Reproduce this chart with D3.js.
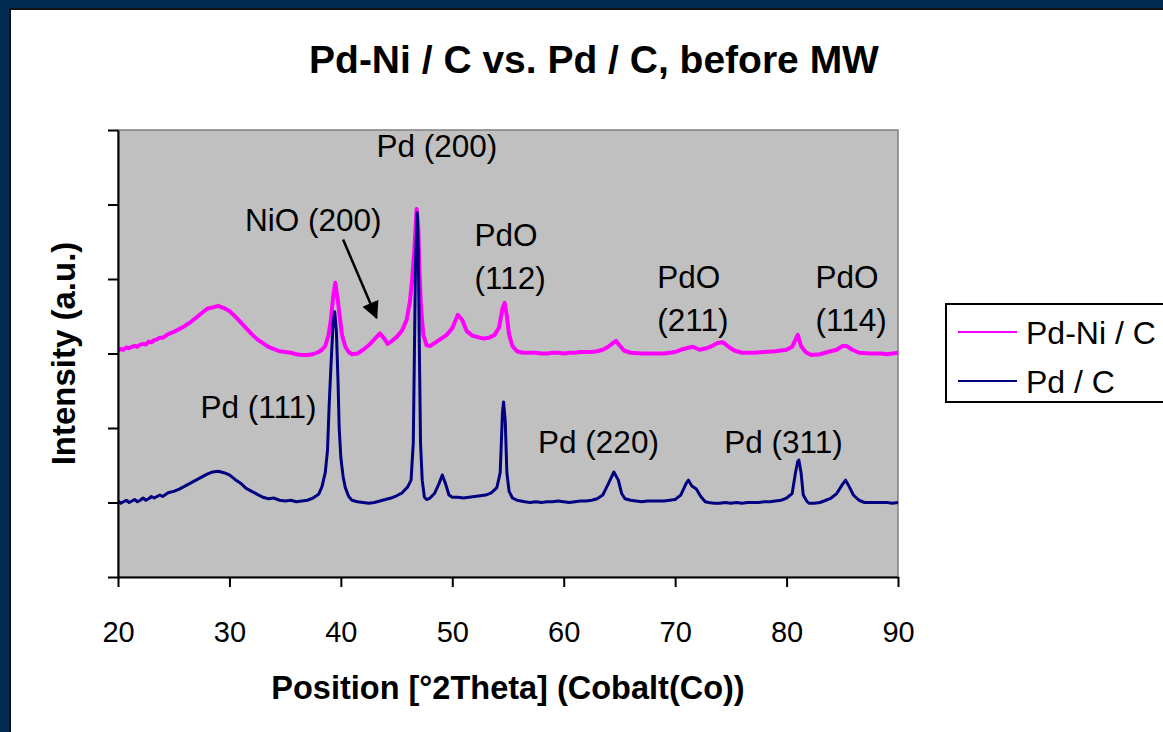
<!DOCTYPE html>
<html>
<head>
<meta charset="utf-8">
<script src="https://cdn.jsdelivr.net/npm/d3@7"></script>
<style>
  html, body { margin: 0; padding: 0; background: #fff; }
  svg { display: block; font-family: "Liberation Sans", Arial, sans-serif; }
</style>
</head>
<body>
<div id="chart"></div>
<script>
// Pd-Ni / C (2theta, intensity a.u.)
const pdNiTheta = [20, 20.25, 20.5, 20.75, 21, 21.25, 21.5, 21.75, 22, 22.25, 22.5, 22.75, 23, 23.25, 23.5, 23.75, 24, 24.5, 25, 25.5, 26, 26.5, 27, 27.5, 28, 28.5, 29, 29.5,
  30, 30.5, 31, 31.5, 32, 32.5, 33, 33.5, 34, 34.5, 35, 35.5, 36, 36.5, 37, 37.5, 38, 38.3, 38.6, 38.9,
  39.1, 39.3, 39.5, 39.7, 39.9, 40.1, 40.4, 40.7, 41, 41.5, 42, 42.5, 43, 43.5, 43.9, 44.2, 44.6, 45, 45.5, 45.9,
  46.2, 46.4, 46.6, 46.8, 46.95, 47.05, 47.2, 47.4, 47.7, 48, 48.5, 49, 49.5, 50, 50.5, 50.9, 51.3, 51.8, 52.3, 52.8,
  53.3, 53.8, 54.2, 54.5, 54.7, 54.9, 55.1, 55.4, 55.8, 56.3, 57, 57.5, 58, 58.5, 59, 59.5, 60, 60.5, 61, 61.5,
  62, 62.5, 63, 63.5, 64, 64.5, 64.7, 65, 65.4, 66, 67, 68, 69, 69.5, 70, 70.5, 71, 71.6, 72.2, 72.8,
  73.3, 73.8, 74.3, 74.8, 75.3, 76, 77, 78, 79, 80, 80.5, 81, 81.3, 81.7, 82.2, 83, 83.7, 84.5, 85, 85.4,
  85.9, 86.5, 87.5, 88.5, 89, 89.5, 90];
const pdNiIntensity = [304, 306, 305, 308, 307, 309, 310, 309, 312, 313, 312, 316, 315, 318, 319, 321, 321, 326, 329, 333, 337, 342, 348, 354, 360, 362, 364, 361,
  357, 350, 342, 334, 326, 319, 314, 309, 306, 303, 302, 301, 299, 298, 298, 299, 302, 305, 310, 325,
  345, 375, 395, 375, 350, 325, 309, 302, 299, 300, 305, 311, 319, 327, 320, 313, 317, 322, 331, 345,
  370, 400, 440, 494, 470, 410, 360, 325, 311, 310, 315, 320, 325, 334, 352, 345, 330, 324, 322, 320,
  321, 325, 335, 360, 368, 350, 325, 310, 303, 301, 301, 301, 300, 300, 301, 301, 300, 301, 301, 302,
  302, 302, 303, 305, 309, 315, 317, 311, 304, 301, 300, 300, 300, 301, 302, 305, 307, 309, 305, 307,
  310, 314, 315, 309, 304, 301, 301, 302, 303, 305, 309, 325, 310, 302, 298, 299, 302, 305, 310, 310,
  305, 301, 300, 300, 299, 300, 301];

// Pd / C
const pdTheta = [20, 20.25, 20.5, 20.75, 21, 21.25, 21.5, 21.75, 22, 22.25, 22.5, 22.75, 23, 23.25, 23.5, 23.75, 24, 24.5, 25, 25.5, 26, 26.5, 27, 27.5, 28, 28.5, 29, 29.5,
  30, 30.5, 31, 31.5, 32, 32.5, 33, 33.5, 34, 34.5, 35, 35.5, 36, 36.5, 37, 37.5, 38, 38.3, 38.6, 38.8,
  38.95, 39.1, 39.3, 39.45, 39.6, 39.75, 39.85, 40, 40.2, 40.4, 40.7, 41, 41.5, 42, 42.5, 43, 43.5, 44, 44.5, 45,
  45.5, 46, 46.3, 46.5, 46.6, 46.7, 46.85, 46.95, 47.05, 47.15, 47.3, 47.5, 47.7, 48, 48.4, 48.8, 49.1, 49.4, 49.7, 50,
  50.5, 51, 51.5, 52, 52.5, 53, 53.5, 54, 54.3, 54.5, 54.6, 54.75, 54.9, 55.1, 55.4, 55.8, 56.5, 57, 57.5, 58,
  58.5, 59, 59.5, 60, 60.5, 61, 61.5, 62, 62.5, 63, 63.5, 64, 64.5, 64.9, 65.2, 65.5, 66, 66.5, 67, 67.5,
  68, 68.5, 69, 69.5, 70, 70.5, 71, 71.2, 71.5, 71.9, 72.3, 72.7, 73, 73.5, 74, 74.5, 75, 75.5, 76, 76.5,
  77, 77.5, 78, 78.5, 79, 79.5, 80, 80.5, 80.8, 81, 81.1, 81.3, 81.5, 81.8, 82, 82.5, 83, 83.7, 84, 84.5,
  85, 85.3, 85.6, 86, 86.5, 87, 87.5, 88, 88.5, 89, 89.5, 90];
const pdIntensity = [102, 99, 101, 103, 100, 102, 104, 101, 103, 106, 103, 105, 108, 106, 108, 110, 108, 113, 115, 118, 122, 126, 130, 134, 138, 141, 142, 140,
  137, 131, 126, 119, 115, 111, 107, 105, 106, 103, 102, 103, 101, 102, 103, 106, 111, 121, 140, 170,
  230, 280, 340, 356, 330, 260, 200, 160, 135, 120, 108, 103, 101, 100, 99, 100, 102, 104, 106, 109,
  113, 121, 130, 180, 300, 420, 489, 440, 300, 180, 130, 107, 104, 106, 112, 125, 137, 125, 110, 107,
  107, 106, 107, 108, 109, 110, 113, 120, 140, 220, 235, 210, 140, 115, 106, 103, 101, 100, 101, 100,
  101, 101, 102, 101, 100, 101, 102, 102, 103, 105, 110, 125, 141, 130, 112, 105, 103, 102, 101, 102,
  102, 102, 102, 103, 104, 110, 126, 130, 122, 118, 108, 101, 100, 99, 99, 100, 99, 100, 99, 100,
  100, 100, 101, 101, 102, 103, 106, 112, 140, 155, 157, 140, 110, 102, 99, 99, 100, 104, 106, 112,
  124, 130, 122, 110, 103, 100, 100, 100, 100, 100, 99, 100];

const xTicks = [20, 30, 40, 50, 60, 70, 80, 90];
const yTicks = [0, 100, 200, 300, 400, 500, 600];

const seriesNames = ['Pd-Ni / C', 'Pd / C'];
const seriesColors = ['#ff00ff', '#000080'];

// peak labels: [text lines, 2theta, intensity of first baseline]
const peakLabels = [
  { lines: ['Pd (200)'], x: 43.2, y: 564 },
  { lines: ['NiO (200)'], x: 31.4, y: 464 },
  { lines: ['PdO', '(112)'], x: 52.0, y: 444 },
  { lines: ['PdO', '(211)'], x: 68.4, y: 388 },
  { lines: ['PdO', '(114)'], x: 82.6, y: 388 },
  { lines: ['Pd (111)'], x: 27.4, y: 214 },
  { lines: ['Pd (220)'], x: 57.7, y: 166 },
  { lines: ['Pd (311)'], x: 74.4, y: 166 }
];

const width = 1163;
const height = 732;
const margin = { top: 130, right: 265, bottom: 155, left: 118 };

const svg = d3.select('#chart')
  .append('svg')
  .attr('width', width)
  .attr('height', height);

// slide frame
svg.append('rect').attr('x', 0).attr('y', 0).attr('width', width).attr('height', height).attr('fill', '#012d52');
svg.append('rect').attr('x', 9).attr('y', 8).attr('width', width).attr('height', height).attr('fill', '#111');
svg.append('rect').attr('x', 11).attr('y', 10).attr('width', width).attr('height', height).attr('fill', '#fff');

const xScale = d3.scaleLinear()
  .domain([20, 90])
  .range([margin.left, width - margin.right]);
const yScale = d3.scaleLinear()
  .domain([0, 600])
  .range([height - margin.bottom, margin.top]);

const x0 = xScale(20), x1 = xScale(90), y0 = yScale(0), y1 = yScale(600);

svg.append('rect')
  .attr('x', x0).attr('y', y1)
  .attr('width', x1 - x0).attr('height', y0 - y1)
  .attr('fill', '#c0c0c0')
  .attr('stroke', '#808080')
  .attr('stroke-width', 1.5);

// curves
const line = d3.line()
  .x(d => xScale(d[0]))
  .y(d => yScale(d[1]));

const pdNiData = pdNiTheta.map((t, i) => [t, pdNiIntensity[i]]);
const pdData = pdTheta.map((t, i) => [t, pdIntensity[i]]);

const plot = svg.append('g').attr('class', 'plot-container');
plot.append('path')
  .datum(pdNiData)
  .attr('fill', 'none')
  .attr('stroke', seriesColors[0])
  .attr('stroke-width', 4)
  .attr('stroke-linejoin', 'round')
  .attr('d', line);
plot.append('path')
  .datum(pdData)
  .attr('fill', 'none')
  .attr('stroke', seriesColors[1])
  .attr('stroke-width', 3)
  .attr('stroke-linejoin', 'round')
  .attr('d', line);

// axes
const xAxis = d3.axisBottom(xScale).tickValues(xTicks).tickSizeInner(10).tickSizeOuter(0).tickPadding(34);
const yAxis = d3.axisLeft(yScale).tickValues(yTicks).tickSizeInner(10).tickSizeOuter(0).tickFormat('');

const gx = svg.append('g')
  .attr('class', 'x-axis-container')
  .attr('transform', `translate(0, ${y0})`)
  .call(xAxis);
gx.select('.domain').attr('stroke', '#000').attr('stroke-width', 2);
gx.selectAll('line').attr('stroke', '#000').attr('stroke-width', 2);
gx.selectAll('text')
  .attr('font-size', 29)
  .attr('fill', '#000')
  .attr('font-family', '"Liberation Sans", Arial, sans-serif');

const gy = svg.append('g')
  .attr('class', 'y-axis-container')
  .attr('transform', `translate(${x0}, 0)`)
  .call(yAxis);
gy.select('.domain').attr('stroke', '#000').attr('stroke-width', 2);
gy.selectAll('line').attr('stroke', '#000').attr('stroke-width', 2);

// titles
svg.append('text')
  .attr('x', 594).attr('y', 73)
  .attr('text-anchor', 'middle')
  .attr('font-size', 39)
  .attr('font-weight', 700)
  .text('Pd-Ni / C vs. Pd / C, before MW');

svg.append('text')
  .attr('x', 508).attr('y', 699)
  .attr('text-anchor', 'middle')
  .attr('font-size', 32.5)
  .attr('font-weight', 700)
  .text('Position [°2Theta] (Cobalt(Co))');

svg.append('text')
  .attr('transform', `translate(75, ${(y0 + y1) / 2}) rotate(-90)`)
  .attr('text-anchor', 'middle')
  .attr('font-size', 33)
  .attr('font-weight', 700)
  .text('Intensity (a.u.)');

// peak labels
const labels = svg.append('g').attr('class', 'label-container');
peakLabels.forEach(p => {
  p.lines.forEach((t, i) => {
    labels.append('text')
      .attr('x', xScale(p.x))
      .attr('y', yScale(p.y) + i * 43)
      .attr('font-size', 31.5)
      .attr('fill', '#000')
      .text(t);
  });
});

// arrow for NiO (200)
svg.append('defs').append('marker')
  .attr('id', 'arrowhead')
  .attr('viewBox', '0 0 10 10')
  .attr('refX', 9).attr('refY', 5)
  .attr('markerWidth', 7).attr('markerHeight', 7)
  .attr('markerUnits', 'strokeWidth')
  .attr('orient', 'auto')
  .append('path')
  .attr('d', 'M0,0 L10,5 L0,10 Z')
  .attr('fill', '#000');
svg.append('line')
  .attr('x1', xScale(40.2)).attr('y1', yScale(453))
  .attr('x2', xScale(43.2)).attr('y2', yScale(348))
  .attr('stroke', '#000')
  .attr('stroke-width', 2.5)
  .attr('marker-end', 'url(#arrowhead)');

// legend
const legend = svg.append('g').attr('class', 'legend-container').attr('transform', 'translate(946, 304)');
legend.append('rect')
  .attr('width', 230).attr('height', 98)
  .attr('fill', '#fff')
  .attr('stroke', '#000')
  .attr('stroke-width', 2);
seriesNames.forEach((name, i) => {
  const ly = 28 + i * 49;
  legend.append('line')
    .attr('x1', 12).attr('x2', 71)
    .attr('y1', ly).attr('y2', ly)
    .attr('stroke', seriesColors[i])
    .attr('stroke-width', 2);
  legend.append('text')
    .attr('x', 80).attr('y', ly + 12)
    .attr('font-size', 32)
    .attr('fill', '#000')
    .text(name);
});
</script>
</body>
</html>
